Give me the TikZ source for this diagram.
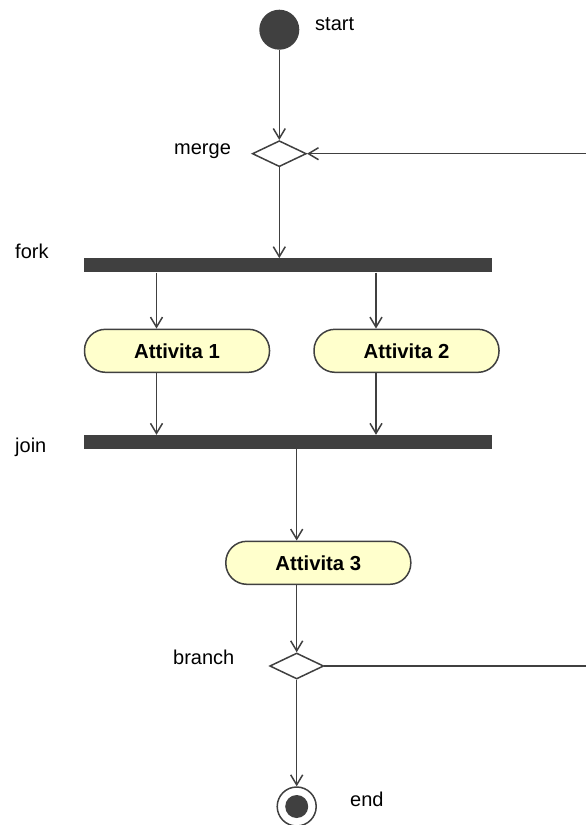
\documentclass[tikz,border=0pt]{standalone}
\usepackage{fontspec}
\setmainfont{Liberation Sans}
\usetikzlibrary{arrows.meta,shapes.geometric}
\definecolor{ink}{HTML}{404040}
\definecolor{actfill}{HTML}{FFFFCC}
\tikzset{
  flow/.style={draw=ink, line width=1.5pt, -{Straight Barb[length=10pt,width=12pt,line width=1.5pt]}},
  plain/.style={draw=ink, line width=1.5pt},
  activity/.style={draw=ink, line width=1.5pt, fill=actfill, rectangle, rounded corners=21pt,
    minimum width=185pt, minimum height=43pt, inner sep=0pt,
    font=\fontsize{20.3}{23}\selectfont\bfseries},
  bar/.style={fill=ink, rectangle, inner sep=0pt, minimum width=408pt, minimum height=14pt},
  decision/.style={draw=ink, line width=1.5pt, fill=white, diamond, inner sep=0pt,
    minimum width=54pt, minimum height=26pt},
  lbl/.style={anchor=base west, inner sep=0pt, font=\fontsize{20}{23}\selectfont},
}
\begin{document}
\begin{tikzpicture}[x=1pt,y=-1pt]
\useasboundingbox (0,0) rectangle (586,825);

% initial and final states
\node[circle, fill=ink, minimum size=40pt, inner sep=0pt] (start) at (279.3,29.7) {};
\node[circle, draw=ink, line width=1.5pt, fill=white, minimum size=39pt, inner sep=0pt] (end) at (296.7,806.5) {};
\fill[ink] (end.center) circle (11.5);

% decisions
\node[decision] (merge) at (279.3,153.7) {};
\node[decision] (branch) at (296.7,666) {};

% synchronisation bars
\node[bar] (fork) at (288,265.3) {};
\node[bar] (join) at (288,442) {};

% activities
\node[activity] (a1) at (177,350.8) {Attivita 1};
\node[activity] (a2) at (406.5,350.8) {Attivita 2};
\node[activity] (a3) at (318.3,562.8) {Attivita 3};

% labels
\node[lbl] at (174,154) {merge};
\node[lbl] at (315,30) {start};
\node[lbl] at (15,258) {fork};
\node[lbl] at (15,452.5) {join};
\node[lbl] at (173,664.5) {branch};
\node[lbl] at (350,806) {end};

% free ends of the loop-back line at the right edge
\coordinate (loopin) at (586,153.7);
\coordinate (loopout) at (586,666);
% columns of the parallel branches
\coordinate (col1) at (156.5,0);
\coordinate (col2) at (376,0);
\coordinate (col3) at (296.7,0);

% connectors
\draw[flow] (start.south) -- (merge.north);
\draw[flow] (loopin) -- (merge.east);
\draw[flow] (merge.south) -- (merge.south |- fork.north);
\draw[flow] (fork.south -| col1) -- (a1.north -| col1);
\draw[flow] (fork.south -| col2) -- (a2.north -| col2);
\draw[flow] (a1.south -| col1) -- (join.north -| col1);
\draw[flow] (a2.south -| col2) -- (join.north -| col2);
\draw[flow] (join.south -| col3) -- (a3.north -| col3);
\draw[flow] (a3.south -| col3) -- (branch.north);
\draw[plain] (branch.east) -- (loopout);
\draw[flow] (branch.south) -- (end.north);
\end{tikzpicture}
\end{document}
